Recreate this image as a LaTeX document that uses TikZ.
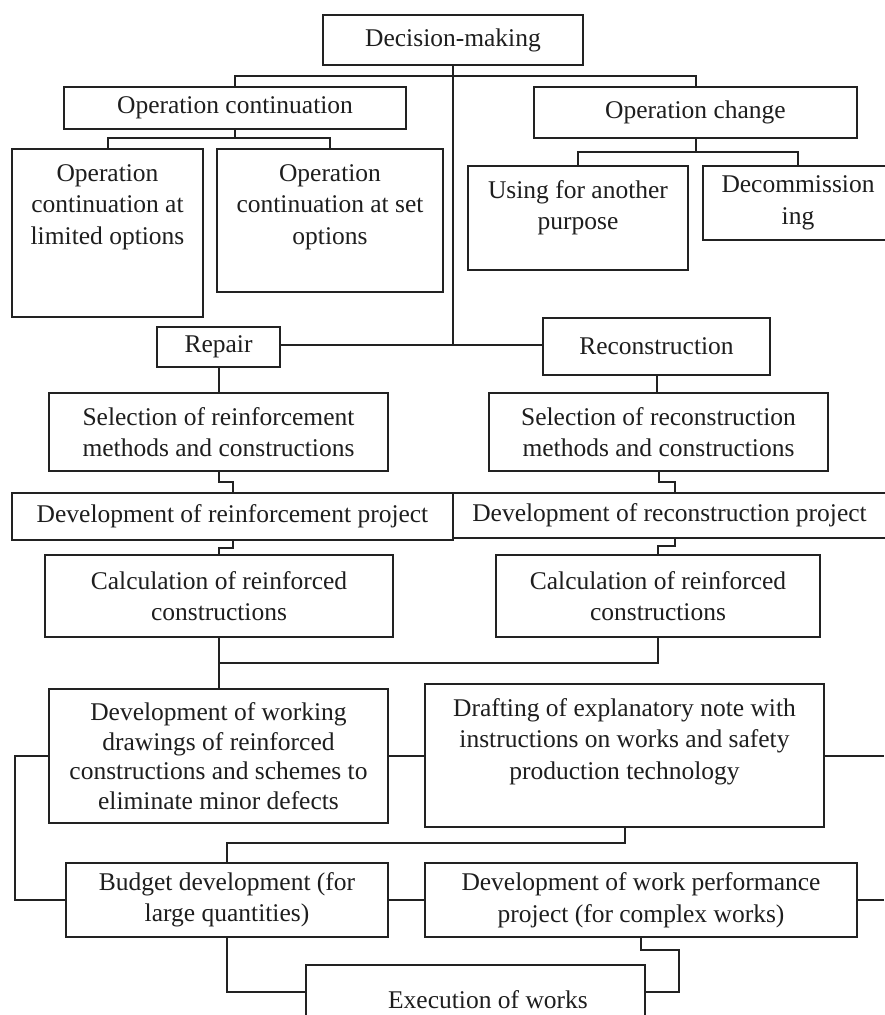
\documentclass[tikz,border=0pt]{standalone}
\usepackage{fontspec}
\setmainfont{Liberation Serif}
\usetikzlibrary{calc}
\definecolor{lc}{HTML}{222222}
\definecolor{tc}{HTML}{1E1E1E}
\newcommand\bodyfont{\fontsize{25.5pt}{31.5pt}\selectfont}
\newcommand\mkbox[6]{\node[box, minimum width={#4-#2}, minimum height={#5-#3}] (#1) at ({(#2+#4)/2},{(#3+#5)/2}) {#6};}
\begin{document}
\begin{tikzpicture}[x=1pt,y=-1pt,
  line width=2pt, draw=lc,
  box/.style={draw=lc, line width=2pt, inner sep=0pt, outer sep=0pt, align=center, font=\bodyfont, text=tc, fill=white},
  toptext/.style={inner sep=0pt, align=center, font=\bodyfont, text=tc, anchor=north},
  conn/.style={draw=lc, line width=2pt}]
\useasboundingbox (0,0) rectangle (884,1015);
\fill[white] (0,0) rectangle (884,1015);
% boxes
\mkbox{dm}{323}{15}{583}{65}{Decision-making}
\mkbox{oc}{64}{87}{406}{129}{Operation continuation}
\mkbox{ochg}{534}{87}{857}{138}{Operation change}
\mkbox{c1}{12}{149}{203}{317}{}
\node[toptext] (c1t) at (107.5,158) {\strut Operation\\continuation at\\limited options};
\mkbox{c2}{217}{149}{443}{292}{}
\node[toptext] (c2t) at (330,158) {\strut Operation\\continuation at set\\options};
\mkbox{use}{468}{166}{688}{270}{}
\node[toptext] (uset) at (578,175) {\strut Using for another\\purpose};
\mkbox{dec}{703}{166}{893}{240}{Decommission\\ing}
\mkbox{rep}{157}{327}{280}{367}{Repair}
\mkbox{rec}{543}{318}{770}{375}{Reconstruction}
\mkbox{selreinf}{49}{393}{388}{471}{Selection of reinforcement\\methods and constructions}
\mkbox{selrec}{489}{393}{828}{471}{Selection of reconstruction\\methods and constructions}
\mkbox{devreinf}{12}{493}{453}{540}{Development of reinforcement project}
\mkbox{devrec}{453}{493}{886}{538}{Development of reconstruction project}
\mkbox{calcL}{45}{555}{393}{637}{Calculation of reinforced\\constructions}
\mkbox{calcR}{496}{555}{820}{637}{Calculation of reinforced\\constructions}
\node[box, minimum width=339, minimum height=134, font=\fontsize{25.5pt}{29.5pt}\selectfont] (devwork) at (218.5,756) {Development of working\\drawings of reinforced\\constructions and schemes to\\eliminate minor defects};
\mkbox{draft}{425}{684}{824}{827}{}
\node[toptext] (draftt) at (624.5,693) {\strut Drafting of explanatory note with\\instructions on works and safety\\production technology};
\mkbox{budget}{66}{863}{388}{937}{Budget development (for\\large quantities)}
\mkbox{devperf}{425}{863}{857}{937}{Development of work performance\\project (for complex works)}
\mkbox{exec}{306}{965}{645}{1019}{}
\node[toptext] (exect) at (488,985) {\strut Execution of works};
% free ends
\coordinate (edge1) at (884,755);
\coordinate (edge2) at (884,899);
\coordinate (ex) at (679,992);
% connectors
\draw[conn] (oc.north) -- (oc.north |- 0,76) -| (ochg.north);
\draw[conn] (dm.south) -- (dm.south |- 0,345);
\draw[conn] (oc.south) -- (oc.south |- 0,138);
\draw[conn] (c1.north) -- (c1.north |- 0,138) -| (c2.north);
\draw[conn] (ochg.south) -- (ochg.south |- 0,152);
\draw[conn] (use.north) -- (use.north |- 0,152) -| (dec.north);
\draw[conn] (rep.east |- 0,345) -- (rec.west |- 0,345);
\draw[conn] (rep.south) -- (rep.south |- selreinf.north);
\draw[conn] (selreinf.south) -- (selreinf.south |- 0,482) -| (devreinf.north);
\draw[conn] (devreinf.south) -- (devreinf.south |- 0,548) -| (calcL.north);
\draw[conn] (rec.south) -- (rec.south |- selrec.north);
\draw[conn] (selrec.south) -- (selrec.south |- 0,482) -| (devrec.north -| 675,0);
\draw[conn] (devrec.south -| 675,0) -- (675,546) -| (calcR.north);
\draw[conn] (calcL.south) -- (calcL.south |- devwork.north);
\draw[conn] (calcL.south |- 0,663) -| (calcR.south);
\draw[conn] (devwork.east) -- (devwork.east -| draft.west);
\draw[conn] (draft.east) -- (draft.east -| edge1);
\draw[conn] (devwork.west) -- ++(-34,0) |- (budget.west);
\draw[conn] (budget.east) -- (budget.east -| devperf.west);
\draw[conn] (devperf.east) -- (devperf.east -| edge2);
\draw[conn] (draft.south) -- (draft.south |- 0,843) -| (budget.north);
\draw[conn] (budget.south) |- (exec.west);
\draw[conn] (devperf.south) -- (devperf.south |- 0,950) -| (ex) -- (exec.east);
\end{tikzpicture}
\end{document}
